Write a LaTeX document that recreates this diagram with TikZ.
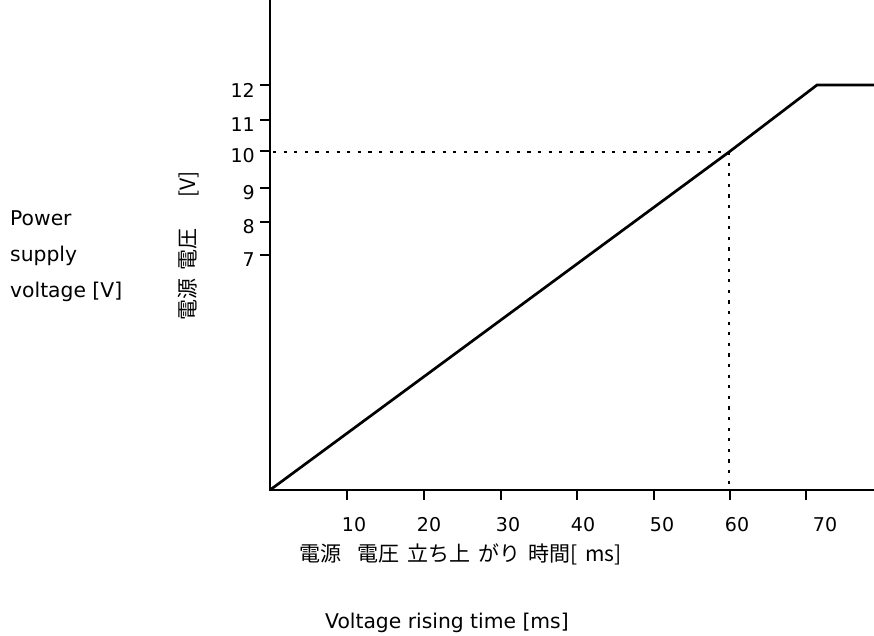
\documentclass[tikz,border=0pt]{standalone}
\usepackage{fontspec}
\setmainfont{DejaVu Sans}
\newfontfamily\cjkfont[WordSpace=1.7]{Noto Sans CJK JP}
\begin{document}
\begin{tikzpicture}[x=1pt,y=-1pt,
  axis/.style={line width=2.2pt},
  tickmark/.style={line width=2.2pt},
  curve/.style={line width=2.7pt, line join=miter},
  guide/.style={line width=2.8pt, dash pattern=on 3.2pt off 7.4pt},
  num/.style={inner sep=0pt, font=\fontsize{19}{23}\selectfont},
  lbl/.style={inner sep=0pt, font=\fontsize{20.3}{36}\selectfont},
  jlbl/.style={inner sep=0pt, font=\cjkfont\fontsize{21}{25}\selectfont}]
\useasboundingbox (0,0) rectangle (874,635);
% axes
\coordinate (O) at (270,490);
\coordinate (Ytop) at (270,0);
\coordinate (Xend) at (874,490);
\draw[axis, line join=miter] (Ytop) -- (O) -- (Xend);
% y ticks
\foreach \v/\y in {12/85,11/120,10/151,9/188,8/222,7/255}{
  \coordinate (yt\v) at (260,\y);
  \coordinate (ya\v) at (270,\y);
  \draw[tickmark] (yt\v) -- (ya\v);
  \node[num, anchor=east] (yl\v) at (255,\y+5) {\v};
}
% x ticks
\foreach \v/\x/\lx in {10/347/354,20/424/429,30/501/508,40/577/583,50/654/662,60/730/737,70/806/825}{
  \coordinate (xa\v) at (\x,490);
  \coordinate (xt\v) at (\x,500);
  \draw[tickmark] (xa\v) -- (xt\v);
  \node[num] (xl\v) at (\lx,525) {\v};
}
% curve
\coordinate (P60) at (729,152);
\coordinate (Pk) at (817,85);
\coordinate (Pend) at (874,85);
\draw[curve] (O) -- (P60) -- (Pk) -- (Pend);
% guides
\coordinate (G1) at (273,152);
\coordinate (G2) at (729,489);
\draw[guide] (G1) -- (P60);
\draw[guide] (P60) -- (G2);
% labels
\node[lbl, anchor=north west, align=left] (yen) at (10,210) {Power\\supply\\voltage [V]};
\node[jlbl, rotate=90, anchor=west] (yj) at (189,321) {電源 電圧\hspace{1.5em}[V]};
\node[jlbl, anchor=west] (xj) at (299,554) {電源\ \ 電圧 立ち上 がり 時間[ ms]};
\node[lbl, anchor=base west] (xen) at (325,628) {Voltage rising time [ms]};
\end{tikzpicture}
\end{document}
